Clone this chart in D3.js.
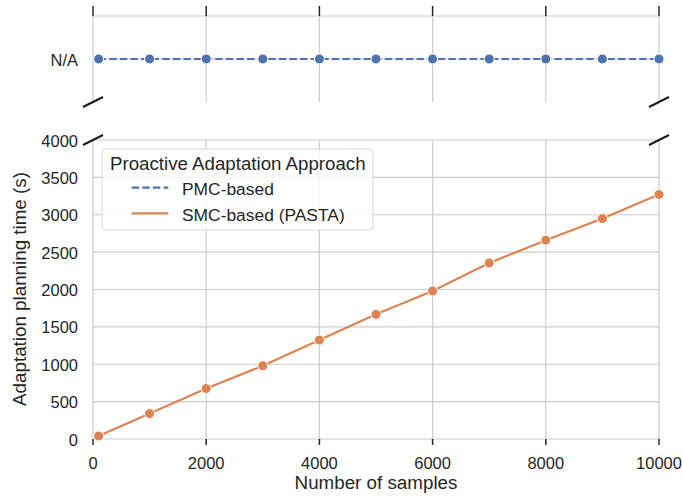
<!DOCTYPE html>
<html><head><meta charset="utf-8">
<script src="https://cdn.jsdelivr.net/npm/d3@7"></script>
<style>body{margin:0;background:#fff}svg{display:block}text{font-family:"Liberation Sans",Arial,sans-serif;fill:#262626}</style>
</head><body><div id="chart"></div>
<script>
const samples = [100,1000,2000,3000,4000,5000,6000,7000,8000,9000,10000];
const pmcValues = ["N/A","N/A","N/A","N/A","N/A","N/A","N/A","N/A","N/A","N/A","N/A"];
const smcValues = [40,340,676,979,1323,1668,1980,2355,2660,2949,3271];
const xTicks = [0,2000,4000,6000,8000,10000];
const yTicks = [0,500,1000,1500,2000,2500,3000,3500,4000];
const seriesNames = ["PMC-based","SMC-based (PASTA)"];
const colors = ["#4c72b0","#dd8452"];

const W=682,H=497;
const svg=d3.select("#chart").append("svg").attr("width",W).attr("height",H);
const x=d3.scaleLinear().domain([0,10000]).range([93,659]);
const yTop=d3.scalePoint().domain(["N/A"]).range([16,102]).padding(0.5);
const yB=d3.scaleLinear().domain([0,4000]).range([439,140]);
const grid="#cccccc";

// top panel grid
const gT=svg.append("g");
gT.selectAll("line.v").data(xTicks).join("line").attr("x1",d=>x(d)).attr("x2",d=>x(d)).attr("y1",16).attr("y2",102).attr("stroke",grid).attr("stroke-width",1.2);
gT.append("line").attr("x1",93).attr("x2",659).attr("y1",yTop("N/A")).attr("y2",yTop("N/A")).attr("stroke",grid).attr("stroke-width",1.2);
gT.append("line").attr("x1",93).attr("x2",659).attr("y1",16).attr("y2",16).attr("stroke",grid).attr("stroke-width",1.2);
gT.selectAll("line.t").data(xTicks).join("line").attr("x1",d=>x(d)).attr("x2",d=>x(d)).attr("y1",6).attr("y2",16).attr("stroke","#262626").attr("stroke-width",1.5);
svg.append("text").attr("x",78).attr("y",65.7).attr("text-anchor","end").attr("font-size",16.5).text("N/A");

// bottom panel grid
const gB=svg.append("g");
gB.selectAll("line.v").data(xTicks).join("line").attr("x1",d=>x(d)).attr("x2",d=>x(d)).attr("y1",140).attr("y2",439).attr("stroke",grid).attr("stroke-width",1.2);
gB.selectAll("line.h").data(yTicks).join("line").attr("x1",93).attr("x2",659).attr("y1",d=>yB(d)).attr("y2",d=>yB(d)).attr("stroke",grid).attr("stroke-width",1.2);
gB.selectAll("line.t").data(xTicks).join("line").attr("x1",d=>x(d)).attr("x2",d=>x(d)).attr("y1",439).attr("y2",445).attr("stroke","#262626").attr("stroke-width",1.5);
gB.selectAll("text.y").data(yTicks).join("text").attr("x",78).attr("y",d=>yB(d)+6.5).attr("text-anchor","end").attr("font-size",16.5).text(d=>d);
gB.selectAll("text.x").data(xTicks).join("text").attr("x",d=>x(d)).attr("y",468.5).attr("text-anchor","middle").attr("font-size",16.5).text(d=>d);
svg.append("text").attr("x",376).attr("y",489).attr("text-anchor","middle").attr("font-size",18.8).text("Number of samples");
svg.append("text").attr("transform","translate(19,289) rotate(-90)").attr("text-anchor","middle").attr("dominant-baseline","central").attr("font-size",18.8).text("Adaptation planning time (s)");

// break marks
[[93,102],[93,140],[659,102],[659,140]].forEach(([cx,cy])=>{
  svg.append("line").attr("x1",cx-10).attr("y1",cy+5).attr("x2",cx+10).attr("y2",cy-5).attr("stroke","#1a1a1a").attr("stroke-width",2);
});

// PMC series (top)
const pmc=samples.map((s,i)=>({x:s,y:pmcValues[i]}));
svg.append("path").datum(pmc).attr("fill","none").attr("stroke",colors[0]).attr("stroke-width",2.2).attr("stroke-dasharray","7.4,3.2")
  .attr("d",d3.line().x(d=>x(d.x)).y(d=>yTop(d.y)));
svg.selectAll("circle.p").data(pmc).join("circle").attr("cx",d=>x(d.x)).attr("cy",d=>yTop(d.y)).attr("r",5).attr("fill",colors[0]).attr("stroke","#fff").attr("stroke-width",1);

// SMC series
const smc=samples.map((s,i)=>({x:s,y:smcValues[i]}));
svg.append("path").datum(smc).attr("fill","none").attr("stroke",colors[1]).attr("stroke-width",2.2)
  .attr("d",d3.line().x(d=>x(d.x)).y(d=>yB(d.y)));
svg.selectAll("circle.s").data(smc).join("circle").attr("cx",d=>x(d.x)).attr("cy",d=>yB(d.y)).attr("r",5).attr("fill",colors[1]).attr("stroke","#fff").attr("stroke-width",1);

// legend
const lg=svg.append("g");
lg.append("rect").attr("x",102).attr("y",149).attr("width",271).attr("height",81).attr("rx",4).attr("fill","#fff").attr("fill-opacity",0.8).attr("stroke","#d6d6d6").attr("stroke-width",1);
lg.append("text").attr("x",110).attr("y",170).attr("font-size",18.7).text("Proactive Adaptation Approach");
const lineY=[187.7,213.3], textY=[195,221];
seriesNames.forEach((n,i)=>{
  lg.append("line").attr("x1",131.7).attr("x2",168.3).attr("y1",lineY[i]).attr("y2",lineY[i]).attr("stroke",colors[i]).attr("stroke-width",2.2).attr("stroke-dasharray",i===0?"7.4,3.2":null);
  lg.append("text").attr("x",182).attr("y",textY[i]).attr("font-size",17.4).text(n);
});
</script></body></html>
